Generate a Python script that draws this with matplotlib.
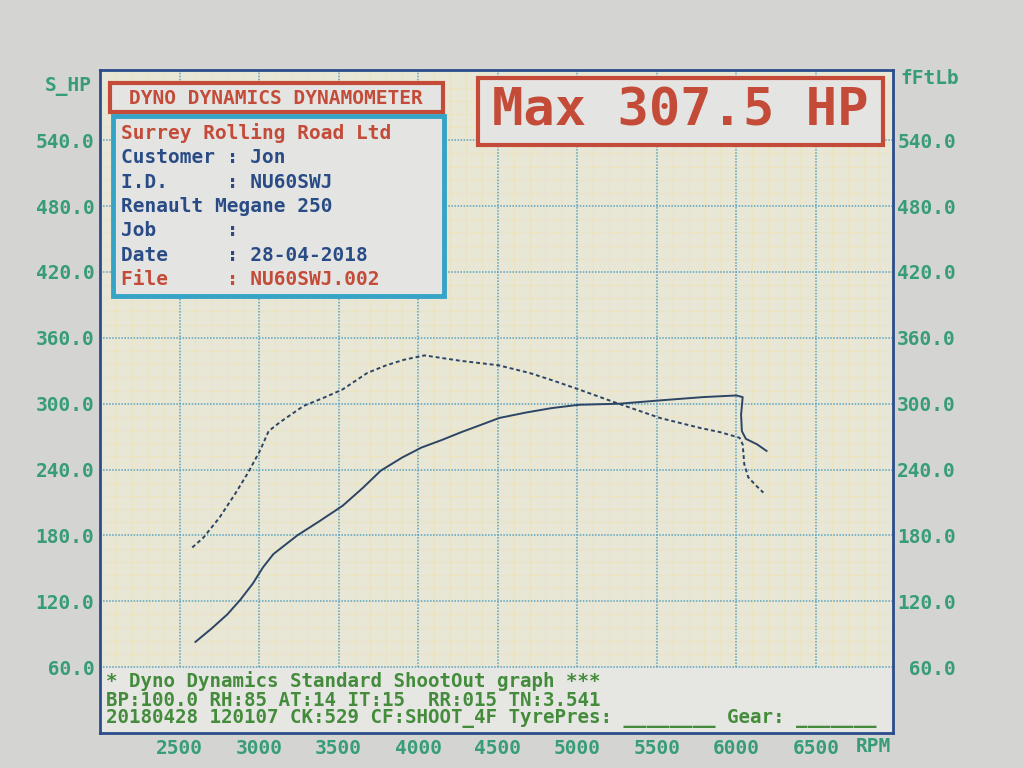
import matplotlib
matplotlib.use("Agg")
import matplotlib.pyplot as plt
from matplotlib.patches import Rectangle

# Data
power_rpm = [2600, 2700, 2800, 2880, 2960, 3025, 3090, 3240, 3380, 3525, 3650, 3765,
             3900, 4020, 4150, 4270, 4400, 4510, 4680, 4840, 5010, 5265, 5520, 5790,
             6000, 6040, 6030, 6035, 6060, 6130, 6190]
power_hp = [83, 95, 108, 121, 136, 151, 163, 180, 193, 207, 223, 239,
            251, 260, 267, 274, 281, 287, 292, 296, 299, 300, 303, 306,
            307.5, 306, 290, 275, 268, 263, 257]

torque_rpm = [2580, 2650, 2750, 2850, 2930, 3005, 3060, 3130, 3280, 3400, 3525, 3680,
              3800, 3910, 4040, 4270, 4505, 4700, 4850, 5010, 5240, 5520, 5770, 5900,
              6020, 6040, 6050, 6075, 6120, 6170]
torque_ftlb = [169, 178, 196, 218, 237, 257, 275, 283, 298, 305, 313, 328,
               335, 340, 344, 339, 335, 328, 321, 313, 301, 287, 278, 274,
               269, 263, 245, 233, 226, 219]

rpm_ticks = [2500, 3000, 3500, 4000, 4500, 5000, 5500, 6000, 6500]
value_ticks = [60, 120, 180, 240, 300, 360, 420, 480, 540]

info_lines = ["Surrey Rolling Road Ltd", "Customer : Jon", "I.D.     : NU60SWJ",
              "Renault Megane 250", "Job      :", "Date     : 28-04-2018",
              "File     : NU60SWJ.002"]
footer_lines = ["* Dyno Dynamics Standard ShootOut graph ***",
                "BP:100.0 RH:85 AT:14 IT:15  RR:015 TN:3.541",
                "20180428 120107 CK:529 CF:SHOOT_4F TyrePres: ________ Gear: _______"]

# colours
BG = "#d4d4d2"
PAPER = "#e6e6e3"
YELLOW = "#e8e6d5"
MINOR = "#eee3b0"
MAJOR = "#5aa3c0"
FRAME = "#2b4d8c"
RED = "#c44b38"
CYAN = "#36a4c6"
BLUE = "#2a4c86"
GREEN = "#379c78"
FOOT = "#448c3c"
CURVE = "#2c4565"
MONO = "DejaVu Sans Mono"

W, H = 1024, 768
fig = plt.figure(figsize=(W / 100, H / 100), dpi=100, facecolor=BG)

def fx(px):
    return px / W

def fy(py):
    return 1 - py / H

ax = fig.add_axes([fx(100), fy(733), fx(893) - fx(100), fy(70) - fy(733)])
ax.set_xlim(2000, 6985)
ax.set_ylim(0, 604)
ax.set_facecolor(PAPER)

# yellow grid paper above the 60 line
ax.add_patch(Rectangle((2000, 60), 4985, 544, facecolor=YELLOW, edgecolor="none", zorder=0))
for r in range(2100, 6985, 100):
    if r % 500:
        ax.vlines(r, 60, 604, color=MINOR, lw=0.8, linestyles=(0, (1, 1)), zorder=1)
for v in range(72, 604, 12):
    if v % 60:
        ax.hlines(v, 2000, 6985, color=MINOR, lw=0.8, linestyles=(0, (1, 1)), zorder=1)
ax.vlines(rpm_ticks, 60, 604, color=MAJOR, lw=1.1, linestyles=(0, (1, 1)), zorder=2)
ax.hlines(value_ticks, 2000, 6985, color=MAJOR, lw=1.1, linestyles=(0, (1, 1)), zorder=2)

for s in ax.spines.values():
    s.set_color(FRAME)
    s.set_linewidth(2)

ax.set_xticks(rpm_ticks)
ax.set_xticklabels([str(r) for r in rpm_ticks])
ax.set_yticks(value_ticks)
ax.set_yticklabels(["%5.1f" % v for v in value_ticks])
ax.tick_params(length=0, pad=4, colors=GREEN, labelsize=14)
for lab in ax.get_xticklabels() + ax.get_yticklabels():
    lab.set_fontfamily(MONO)
    lab.set_fontweight("bold")

ax2 = ax.twinx()
ax2.set_ylim(ax.get_ylim())
ax2.set_yticks(value_ticks)
ax2.set_yticklabels(["%5.1f" % v for v in value_ticks])
ax2.tick_params(length=0, pad=3, colors=GREEN, labelsize=14)
for lab in ax2.get_yticklabels():
    lab.set_fontfamily(MONO)
    lab.set_fontweight("bold")
for s in ax2.spines.values():
    s.set_visible(False)

# curves
ax.plot(power_rpm, power_hp, color=CURVE, lw=1.4, zorder=5)
ax2.plot(torque_rpm, torque_ftlb, color=CURVE, lw=1.4, linestyle=(0, (2, 1.5)), zorder=5)

fig.text(fx(92), fy(86), "S_HP", color=GREEN, family=MONO, weight="bold", fontsize=14,
         ha="right", va="center")
fig.text(fx(900), fy(78), "fFtLb", color=GREEN, family=MONO, weight="bold", fontsize=14,
         ha="left", va="center")
fig.text(fx(856), fy(747), "RPM", color=GREEN, family=MONO, weight="bold", fontsize=14,
         ha="left", va="center")

# header boxes
def box(x0, y0, x1, y1, ec, lw, fc="#e4e4e2"):
    fig.add_artist(Rectangle((fx(x0), fy(y1)), fx(x1) - fx(x0), fy(y0) - fy(y1),
                             transform=fig.transFigure, facecolor=fc, edgecolor=ec,
                             lw=lw, zorder=10))

box(110, 83, 443, 112, RED, 3)
fig.text(fx(276), fy(98), "DYNO DYNAMICS DYNAMOMETER", color=RED, family=MONO,
         weight="bold", fontsize=14, ha="center", va="center", zorder=11)

box(113, 116, 444, 296, CYAN, 3.5)
for i, line in enumerate(info_lines):
    c = RED if i in (0, len(info_lines) - 1) else BLUE
    fig.text(fx(121), fy(133 + i * 24.5), line, color=c, family=MONO, weight="bold",
             fontsize=14, ha="left", va="center", zorder=11)

box(478, 78, 883, 145, RED, 3)
fig.text(fx(680), fy(112), "Max 307.5 HP", color=RED, family=MONO, weight="bold",
         fontsize=37.5, ha="center", va="center", zorder=11)

# footer text
for i, line in enumerate(footer_lines):
    fig.text(fx(106), fy(681 + i * 19), line, color=FOOT, family=MONO, weight="bold",
             fontsize=13.8, ha="left", va="center", zorder=11)

fig.savefig("out.png", dpi=100, facecolor=BG)
